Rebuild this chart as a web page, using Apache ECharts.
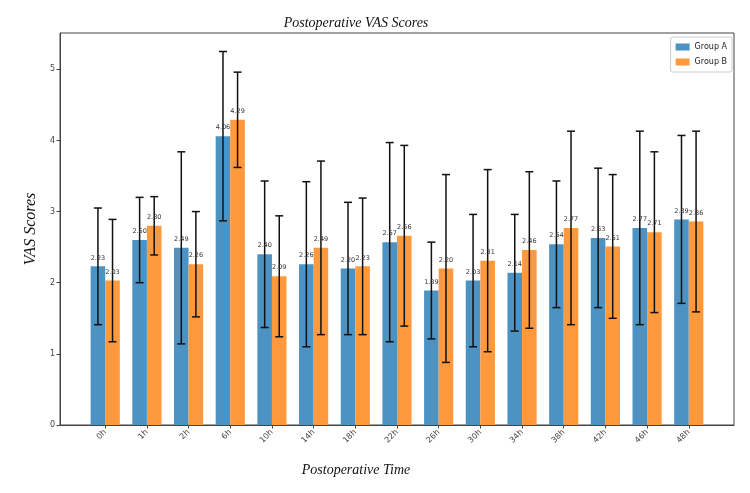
<!DOCTYPE html>
<html>
<head>
<meta charset="utf-8">
<script src="https://cdn.jsdelivr.net/npm/echarts@6/dist/echarts.min.js"></script>
<style>
  html, body {margin: 0; padding: 0; background: #fff;}
  #chart {width: 750px; height: 493px;}
</style>
</head>
<body>
<div id="chart"></div>
<script>
const times = ['0h', '1h', '2h', '6h', '10h', '14h', '18h', '22h', '26h', '30h', '34h', '38h', '42h', '46h', '48h']
const groupA = [2.23, 2.60, 2.49, 4.06, 2.40, 2.26, 2.20, 2.57, 1.89, 2.03, 2.14, 2.54, 2.63, 2.77, 2.89]
const groupB = [2.03, 2.80, 2.26, 4.29, 2.09, 2.49, 2.23, 2.66, 2.20, 2.31, 2.46, 2.77, 2.51, 2.71, 2.86]
const sdA = [0.82, 0.60, 1.35, 1.19, 1.03, 1.16, 0.93, 1.40, 0.68, 0.93, 0.82, 0.89, 0.98, 1.36, 1.18]
const sdB = [0.86, 0.41, 0.74, 0.67, 0.85, 1.22, 0.96, 1.27, 1.32, 1.28, 1.10, 1.36, 1.01, 1.13, 1.27]
const yTicks = [0, 1, 2, 3, 4, 5]

const blue = '#4c92c3'
const orange = '#ff993e'
const barW = 0.35

const serif = 'Liberation Serif'
const sans = 'DejaVu Sans'

// one custom series per group: bar, error bar and value label
const makeGroup = (name, means, sds, offset, color) => ({
  name,
  type: 'custom',
  color,
  itemStyle: {color},
  data: means.map((v, i) => [i, v, sds[i]]),
  encode: {x: 0, y: 1},
  renderItem: (params, api) => {
    const x = api.value(0) + offset
    const v = api.value(1)
    const s = api.value(2)
    const p0 = api.coord([x - barW / 2, 0])
    const p1 = api.coord([x + barW / 2, v])
    const cx = api.coord([x, 0])[0]
    const top = api.coord([x, v + s])[1]
    const bot = api.coord([x, v - s])[1]
    const line = {stroke: '#111', lineWidth: 1.5}
    return {
      type: 'group',
      children: [
        {type: 'rect', shape: {x: p0[0], y: p1[1], width: p1[0] - p0[0], height: p0[1] - p1[1]},
          style: {fill: color}},
        {type: 'line', shape: {x1: cx, y1: top, x2: cx, y2: bot}, style: line},
        {type: 'line', shape: {x1: cx - 4, y1: top, x2: cx + 4, y2: top}, style: line},
        {type: 'line', shape: {x1: cx - 4, y1: bot, x2: cx + 4, y2: bot}, style: line},
        {type: 'text', x: cx, y: p1[1] - 5, z2: 10,
          style: {text: v.toFixed(2), fontSize: 6.5, fontFamily: sans, fill: '#333',
            align: 'center', verticalAlign: 'bottom'}}
      ]
    }
  }
})

const chart = echarts.init(document.getElementById('chart'))
chart.setOption({
  animation: false,
  grid: {left: 60, right: 16, top: 33, bottom: 68, show: true, borderColor: '#444', borderWidth: 1},
  title: [
    {text: 'Postoperative VAS Scores', left: 351, top: 11, textAlign: 'center',
      textStyle: {fontFamily: serif, fontStyle: 'italic', fontWeight: 'normal', fontSize: 14, color: '#111'}},
    {text: 'Postoperative Time', left: 351, top: 458, textAlign: 'center',
      textStyle: {fontFamily: serif, fontStyle: 'italic', fontWeight: 'normal', fontSize: 14, color: '#111'}}
  ],
  legend: {
    right: 18, top: 37, orient: 'vertical', itemWidth: 14, itemHeight: 7, itemGap: 7,
    icon: 'rect', padding: [6, 5, 6, 5],
    backgroundColor: '#fff', borderColor: '#ccc', borderWidth: 1, borderRadius: 2,
    textStyle: {fontFamily: sans, fontSize: 8, color: '#222'},
    data: ['Group A', 'Group B']
  },
  xAxis: {
    type: 'value', min: -1.085, max: 15.085,
    splitLine: {show: false},
    axisLine: {lineStyle: {color: '#444'}},
    axisTick: {length: 3.5, lineStyle: {color: '#444'}, customValues: times.map((t, i) => i)},
    axisLabel: {
      customValues: times.map((t, i) => i),
      formatter: v => times[v],
      rotate: 45, fontFamily: sans, fontSize: 8, color: '#444', margin: 6
    }
  },
  yAxis: {
    type: 'value', min: 0, max: 5.51,
    name: 'VAS Scores', nameLocation: 'middle', nameGap: 20, nameRotate: 90,
    nameTextStyle: {fontFamily: serif, fontStyle: 'italic', fontSize: 16, color: '#111'},
    splitLine: {show: false},
    axisLine: {show: true, onZero: false, lineStyle: {color: '#444'}},
    axisTick: {show: true, length: 3.5, lineStyle: {color: '#444'}, customValues: yTicks},
    axisLabel: {customValues: yTicks, fontFamily: sans, fontSize: 8, color: '#444', margin: 5}
  },
  series: [
    makeGroup('Group A', groupA, sdA, -barW / 2, blue),
    makeGroup('Group B', groupB, sdB, barW / 2, orange)
  ]
})
</script>
</body>
</html>
